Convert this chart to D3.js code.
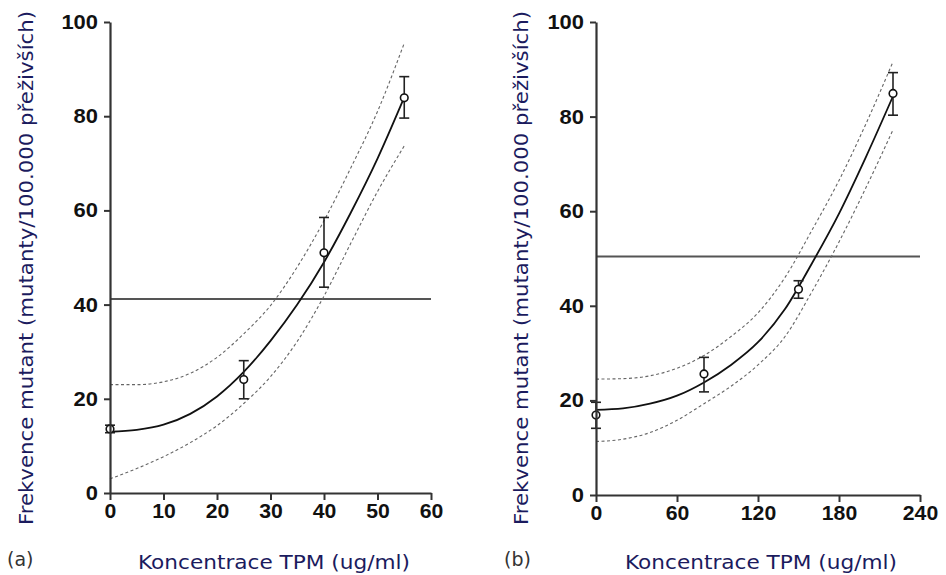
<!DOCTYPE html>
<html>
<head>
<meta charset="utf-8">
<script src="https://cdn.jsdelivr.net/npm/d3@7"></script>
<style>
  body { margin: 0; background: #fff; }
  .tick text { font-family: "Liberation Sans", Arial, sans-serif; font-weight: bold; font-size: 20px; fill: #111; }
</style>
</head>
<body>
<div id="chart"></div>
<script>

// ---- panel (a) ----
var a_pointX   = [0, 25, 40, 55];
var a_pointY   = [13.6, 24.1, 51, 83.9];
var a_errLo    = [12.8, 20, 43.7, 79.6];
var a_errHi    = [14.4, 28.1, 58.5, 88.4];
var a_curveX   = [0, 5, 10, 15, 20, 25, 30, 35, 40, 45, 50, 55];
var a_fit      = [13, 13.4, 14.5, 16.8, 20.5, 25.7, 32.3, 40, 49, 59.5, 71, 84];
var a_upper    = [23, 23, 23.6, 25.4, 28.8, 33.8, 39.8, 48, 57.8, 69, 81, 95.5];
var a_lower    = [3, 5.2, 7.7, 10.7, 14.3, 19, 24.7, 32.2, 41.8, 53, 64, 73.7];
var a_refLine  = 41.2;
var a_xTicks   = [0, 10, 20, 30, 40, 50, 60];

// ---- panel (b) ----
var b_pointX   = [0, 80, 150, 220];
var b_pointY   = [16.9, 25.6, 43.5, 84.9];
var b_errLo    = [14.1, 21.8, 41.6, 80.3];
var b_errHi    = [19.6, 29.1, 45.3, 89.3];
var b_curveX   = [0, 20, 40, 60, 80, 100, 120, 140, 160, 180, 200, 220];
var b_fit      = [18, 18.3, 19.3, 21, 23.8, 27.5, 32.3, 39.3, 49, 59.5, 71.5, 84.3];
var b_upper    = [24.5, 24.6, 25.2, 26.8, 29.5, 33.5, 38.5, 46, 56, 66.5, 78.5, 91.6];
var b_lower    = [11.3, 11.8, 13.2, 15.8, 19.3, 23, 27.5, 33.5, 43, 53.5, 65, 77.2];
var b_refLine  = 50.4;
var b_xTicks   = [0, 60, 120, 180, 240];

var yTicks     = [0, 20, 40, 60, 80, 100];
var yTitle     = 'Frekvence mutant (mutanty/100.000 přeživších)';
var xTitle     = 'Koncentrace TPM (ug/ml)';

var width  = 946;
var height = 575;
var labelColor = '#1b1b5e';

var svg = d3.select('#chart')
  .append('svg')
  .attr('width', width)
  .attr('height', height);

function drawPanel(p) {
  var x = d3.scaleLinear().domain([p.xTicks[0], p.xTicks[p.xTicks.length - 1]]).range(p.xRange);
  var y = d3.scaleLinear().domain([0, 100]).range(p.yRange);

  var g = svg.append('g');

  // reference line
  g.append('line')
    .attr('x1', x(p.xTicks[0]))
    .attr('x2', x(p.xTicks[p.xTicks.length - 1]))
    .attr('y1', y(p.ref))
    .attr('y2', y(p.ref))
    .attr('stroke', '#555')
    .attr('stroke-width', 2);

  var line = d3.line()
    .x(function(d) { return x(d[0]); })
    .y(function(d) { return y(d[1]); })
    .curve(d3.curveMonotoneX);

  [p.upper, p.lower].forEach(function(band) {
    g.append('path')
      .datum(p.curveX.map(function(v, i) { return [v, band[i]]; }))
      .attr('d', line)
      .attr('fill', 'none')
      .attr('stroke', '#666')
      .attr('stroke-width', 1.1)
      .attr('stroke-dasharray', '3,2.5');
  });

  g.append('path')
    .datum(p.curveX.map(function(v, i) { return [v, p.fit[i]]; }))
    .attr('d', line)
    .attr('fill', 'none')
    .attr('stroke', '#111')
    .attr('stroke-width', 1.8);

  // error bars
  var pts = p.pointX.map(function(v, i) {
    return { x: v, y: p.pointY[i], lo: p.errLo[i], hi: p.errHi[i] };
  });

  var eb = g.selectAll('g.err').data(pts).enter().append('g').attr('class', 'err');
  eb.append('line')
    .attr('x1', function(d) { return x(d.x); })
    .attr('x2', function(d) { return x(d.x); })
    .attr('y1', function(d) { return y(d.lo); })
    .attr('y2', function(d) { return y(d.hi); })
    .attr('stroke', '#222').attr('stroke-width', 1.6);
  ['lo', 'hi'].forEach(function(k) {
    eb.append('line')
      .attr('x1', function(d) { return x(d.x) - 5; })
      .attr('x2', function(d) { return x(d.x) + 5; })
      .attr('y1', function(d) { return y(d[k]); })
      .attr('y2', function(d) { return y(d[k]); })
      .attr('stroke', '#222').attr('stroke-width', 1.6);
  });
  eb.append('circle')
    .attr('cx', function(d) { return x(d.x); })
    .attr('cy', function(d) { return y(d.y); })
    .attr('r', 3.8)
    .attr('fill', '#fff')
    .attr('stroke', '#111')
    .attr('stroke-width', 1.6);

  // axes
  var xAxis = d3.axisBottom(x).tickValues(p.xTicks).tickSize(7).tickSizeOuter(0).tickPadding(4);
  var yAxis = d3.axisLeft(y).tickValues(yTicks).tickSize(6).tickSizeOuter(0).tickPadding(6);

  var gx = g.append('g')
    .attr('transform', 'translate(0,' + p.yRange[0] + ')')
    .call(xAxis);
  var gy = g.append('g')
    .attr('transform', 'translate(' + p.xRange[0] + ',0)')
    .call(yAxis);

  [gx, gy].forEach(function(ax) {
    ax.select('.domain').attr('stroke', '#333').attr('stroke-width', 2.2);
    ax.selectAll('.tick line').attr('stroke', '#333').attr('stroke-width', 2);
  });
  gx.selectAll('.tick text').attr('textLength', function(d) { return String(d).length * 11.8; })
    .attr('lengthAdjust', 'spacingAndGlyphs');
  gy.selectAll('.tick text').attr('textLength', function(d) { return String(d).length * 12.2; })
    .attr('lengthAdjust', 'spacingAndGlyphs');

  // titles
  g.append('text')
    .attr('x', p.xTitleX)
    .attr('y', 569)
    .attr('text-anchor', 'middle')
    .attr('textLength', 272)
    .attr('lengthAdjust', 'spacingAndGlyphs')
    .style('font-family', 'Verdana, "DejaVu Sans", sans-serif')
    .style('font-size', '19px')
    .attr('fill', labelColor)
    .text(xTitle);

  g.append('text')
    .attr('transform', 'translate(' + p.yTitleX + ',' + p.yTitleY + ') rotate(-90)')
    .attr('text-anchor', 'middle')
    .attr('textLength', 514)
    .attr('lengthAdjust', 'spacingAndGlyphs')
    .style('font-family', 'Verdana, "DejaVu Sans", sans-serif')
    .style('font-size', '19px')
    .attr('fill', labelColor)
    .text(yTitle);

  g.append('text')
    .attr('x', p.tagX)
    .attr('y', 566)
    .style('font-family', 'Verdana, "DejaVu Sans", sans-serif')
    .style('font-size', '19px')
    .attr('fill', '#333')
    .text(p.tag);
}

drawPanel({
  xTicks: a_xTicks, xRange: [110, 431], yRange: [493, 22],
  pointX: a_pointX, pointY: a_pointY, errLo: a_errLo, errHi: a_errHi,
  curveX: a_curveX, fit: a_fit, upper: a_upper, lower: a_lower,
  ref: a_refLine, xTitleX: 274, yTitleX: 33, yTitleY: 268, tagX: 7, tag: '(a)'
});

drawPanel({
  xTicks: b_xTicks, xRange: [596, 920], yRange: [495, 22],
  pointX: b_pointX, pointY: b_pointY, errLo: b_errLo, errHi: b_errHi,
  curveX: b_curveX, fit: b_fit, upper: b_upper, lower: b_lower,
  ref: b_refLine, xTitleX: 761, yTitleX: 528, yTitleY: 268, tagX: 504, tag: '(b)'
});

</script>
</body>
</html>
